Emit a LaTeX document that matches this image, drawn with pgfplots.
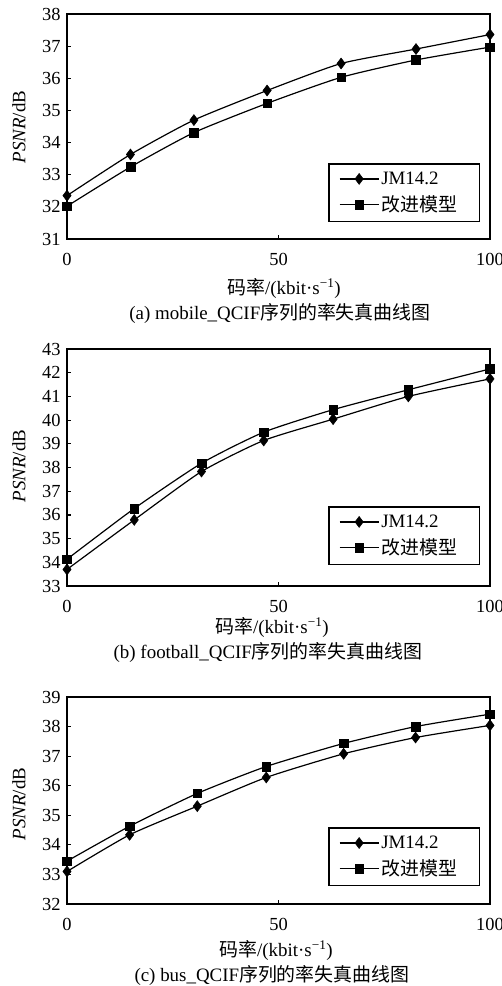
\documentclass[border=0pt]{standalone}
\usepackage{pgfplots}
\pgfplotsset{compat=1.18}
\usepackage{fontspec}
\setmainfont{Liberation Serif}
\newfontfamily\cjk{Noto Sans CJK SC}

% JM14.2 and improved model, one table per sub-figure
\pgfplotstableread{
x    jm     imp
0    32.35  32.02
15   33.63  33.24
30   34.70  34.31
47.3 35.62  35.22
64.8 36.46  36.03
82.5 36.91  36.57
100  37.36  36.97
}\mobile
\pgfplotstableread{
x    jm     imp
0    33.70  34.13
15.9 35.79  36.27
31.8 37.83  38.18
46.5 39.14  39.49
62.9 40.04  40.44
80.7 41.00  41.28
100  41.74  42.16
}\football
\pgfplotstableread{
x    jm     imp
0    33.10  33.45
14.8 34.34  34.63
30.8 35.31  35.74
47.1 36.28  36.65
65.4 37.08  37.43
82.4 37.63  38.00
100  38.04  38.42
}\bus

\newcommand{\fnt}{\fontsize{19}{22}\selectfont}

\pgfplotsset{
  rd/.style={
    scale only axis, width=423bp,
    xmin=0, xmax=100, xtick={0,50,100},
    ytick distance=1,
    tick pos=left, tick align=inside,
    major tick length=4bp,
    axis line style={line width=1.4bp},
    every tick/.style={line width=1.2bp, black},
    clip=false,
    tick label style={font=\fontsize{18.5}{21}\selectfont},
    /pgf/number format/assume math mode=true,
    xticklabel style={yshift=-11bp},
    yticklabel style={xshift=-3bp},
    legend cell align=left,
    legend style={anchor=south east, draw=black, line width=1.2bp,
      inner xsep=10bp, inner ysep=6bp, row sep=6bp,
      font=\fnt, nodes={text width=86bp}},
    legend image code/.code={
      \draw[#1, line width=1.2bp] (0bp,0bp) -- (39bp,0bp);
      \draw[#1, only marks] plot coordinates {(19.5bp,0bp)};},
  },
  jm/.style={black, line width=1.2bp, smooth, tension=0.35,
    mark=diamond*, mark size=5.5bp, mark options={solid, line width=0.5bp}},
  imp/.style={black, line width=1.2bp, smooth, tension=0.35,
    mark=square*, mark size=4.3bp, mark options={solid, line width=0.5bp}},
}

\newcommand{\xlab}{\cjk 码率\rmfamily/(kbit·s\textsuperscript{−1})}
\newcommand{\ylab}{\textit{PSNR}/dB}

\begin{document}
\begin{tikzpicture}
\path[use as bounding box] (0,0) rectangle (502bp,-986bp);

% (a)
\begin{axis}[rd, height=225bp, ymin=31, ymax=38,
  at={(67bp,-239bp)}, anchor=south west,
  legend style={at={(0.976,0.076)}}]
\addplot[jm] table[x=x, y=jm] {\mobile};
\addlegendentry{JM14.2}
\addplot[imp] table[x=x, y=imp] {\mobile};
\addlegendentry{\cjk 改进模型}
\end{axis}
\node[font=\fnt, rotate=90] at (19bp,-127bp) {\ylab};
\node[font=\fnt] at (284bp,-288bp) {\xlab};
\node[font=\fnt] at (280bp,-313bp) {(a) mobile\_QCIF{\cjk 序列的率失真曲线图}};

% (b)
\begin{axis}[rd, height=237bp, ymin=33, ymax=43,
  at={(67bp,-586bp)}, anchor=south west,
  legend style={at={(0.976,0.089)}}]
\addplot[jm] table[x=x, y=jm] {\football};
\addlegendentry{JM14.2}
\addplot[imp] table[x=x, y=imp] {\football};
\addlegendentry{\cjk 改进模型}
\end{axis}
\node[font=\fnt, rotate=90] at (19bp,-466bp) {\ylab};
\node[font=\fnt] at (272bp,-627bp) {\xlab};
\node[font=\fnt] at (268bp,-652bp) {(b) football\_QCIF{\cjk 序列的率失真曲线图}};

% (c)
\begin{axis}[rd, height=207bp, ymin=32, ymax=39,
  at={(67bp,-904bp)}, anchor=south west,
  legend style={at={(0.976,0.087)}}]
\addplot[jm] table[x=x, y=jm] {\bus};
\addlegendentry{JM14.2}
\addplot[imp] table[x=x, y=imp] {\bus};
\addlegendentry{\cjk 改进模型}
\end{axis}
\node[font=\fnt, rotate=90] at (19bp,-804bp) {\ylab};
\node[font=\fnt] at (276bp,-950bp) {\xlab};
\node[font=\fnt] at (272bp,-975bp) {(c) bus\_QCIF{\cjk 序列的率失真曲线图}};
\end{tikzpicture}
\end{document}
